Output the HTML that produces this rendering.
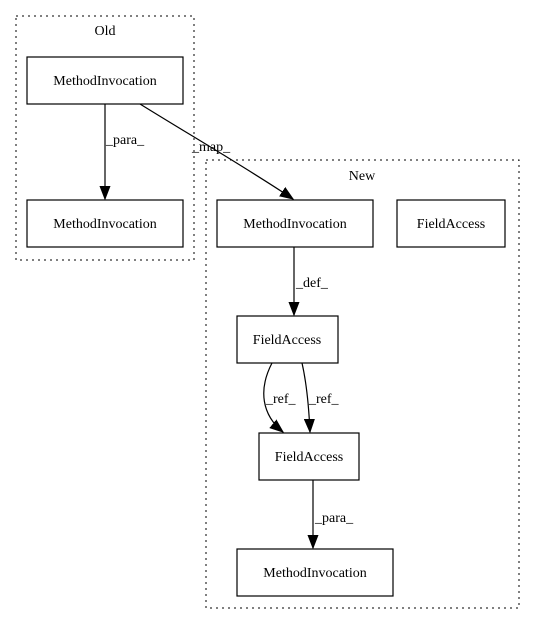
<!DOCTYPE html>
<html><head><style>body{margin:0;background:#fff}svg{display:block}</style></head><body>
<svg width="535" height="624" viewBox="0 0 535 624" xmlns="http://www.w3.org/2000/svg" font-family="Liberation Serif, serif" font-size="14">
<defs><marker id="a" markerWidth="14" markerHeight="12" refX="13" refY="6" orient="auto" markerUnits="userSpaceOnUse"><path d="M0,1 L13,6 L0,11 z" fill="#000" stroke="#000"/></marker></defs>
<rect x="16" y="16" width="178" height="244" fill="none" stroke="#000" stroke-dasharray="2,4"/>
<text x="105" y="35" text-anchor="middle">Old</text>
<rect x="206" y="160" width="313" height="448" fill="none" stroke="#000" stroke-dasharray="2,4"/>
<text x="362" y="180" text-anchor="middle">New</text>
<g fill="none" stroke="#000" stroke-width="1.2">
<rect x="27" y="57" width="156" height="47"/>
<rect x="27" y="200" width="156" height="47"/>
<rect x="217" y="200" width="156" height="47"/>
<rect x="397" y="200" width="108" height="47"/>
<rect x="237" y="316" width="101" height="47"/>
<rect x="259" y="433" width="100" height="47"/>
<rect x="237" y="549" width="156" height="47"/>
<path d="M105,104 L105,199" marker-end="url(#a)"/>
<path d="M140,104 C190,135 250,170 293,199" marker-end="url(#a)"/>
<path d="M294,247 L294,315" marker-end="url(#a)"/>
<path d="M272,363 C258,390 262,415 283,432" marker-end="url(#a)"/>
<path d="M302,363 C307,385 309,410 310,432" marker-end="url(#a)"/>
<path d="M313,480 L313,548" marker-end="url(#a)"/>
</g>
<g text-anchor="middle">
<text x="105" y="85">MethodInvocation</text>
<text x="105" y="228">MethodInvocation</text>
<text x="295" y="228">MethodInvocation</text>
<text x="451" y="228">FieldAccess</text>
<text x="287" y="344">FieldAccess</text>
<text x="309" y="461">FieldAccess</text>
<text x="315" y="577">MethodInvocation</text>
</g>
<g>
<text x="106" y="144">_para_</text>
<text x="192" y="151">_map_</text>
<text x="296" y="287">_def_</text>
<text x="266" y="403">_ref_</text>
<text x="309" y="403">_ref_</text>
<text x="315" y="522">_para_</text>
</g>
</svg>
</body></html>
